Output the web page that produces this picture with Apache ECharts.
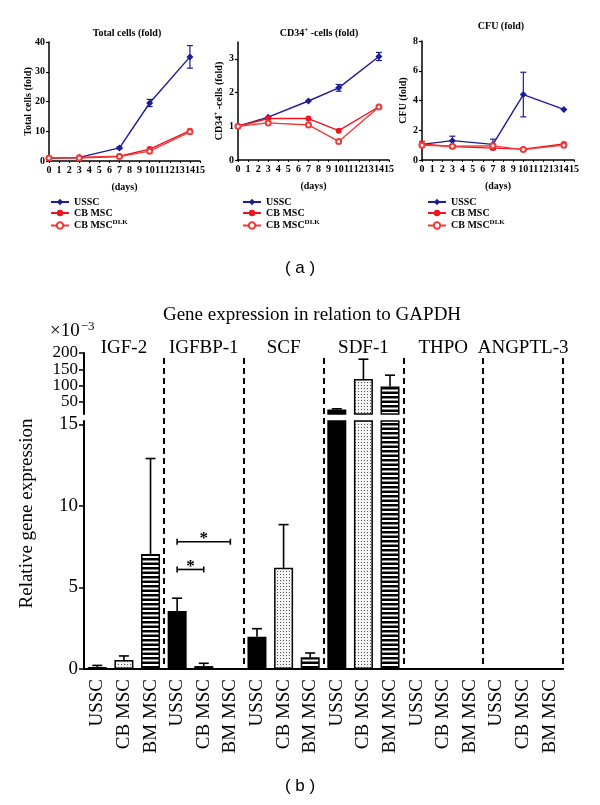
<!DOCTYPE html>
<html>
<head>
<meta charset="utf-8">
<script src="https://cdn.jsdelivr.net/npm/echarts@6/dist/echarts.min.js"></script>
<style>
html, body { margin: 0; padding: 0; background: #fff; }
#main { width: 600px; height: 805px; }
</style>
</head>
<body>
<div id="main"></div>
<script>
// (a) fold expansion over time
var days = [0, 3, 7, 10, 14];
var dayTicks = [0, 15];
var totalUSSC = [1, 1.2, 4.4, 19.5, 35];
var totalUSSCErr = [0, 0, 0.3, 1.2, 3.8];
var totalCB = [1, 1.2, 1.6, 4, 10.2];
var totalDLK = [1, 1, 1.5, 3.3, 9.8];

var cd34USSC = [1, 1.27, 1.75, 2.14, 3.07];
var cd34USSCErr = [0, 0, 0, 0.1, 0.12];
var cd34CB = [1, 1.23, 1.23, 0.87, 1.58];
var cd34DLK = [1, 1.1, 1.04, 0.55, 1.57];
var cd34Ticks = [0, 1, 2, 3];

var cfuUSSC = [1.05, 1.3, 1.05, 4.4, 3.4];
var cfuUSSCErr = [0, 0.3, 0.35, 1.5, 0];
var cfuCB = [1.08, 0.9, 0.8, 0.73, 1.08];
var cfuCBErr = [0.18, 0.1, 0, 0.05, 0.05];
var cfuDLK = [1.0, 0.92, 0.95, 0.7, 1.0];

var lineNames = ['USSC', 'CB MSC', 'CB MSC DLK'];

// (b) gene expression, x10^-3
var genes = ['IGF-2', 'IGFBP-1', 'SCF', 'SDF-1', 'THPO', 'ANGPTL-3'];
var cellTypes = ['USSC', 'CB MSC', 'BM MSC'];
var exprUSSC = [0.12, 3.56, 1.98, 27, 0, 0];
var exprCB = [0.55, 0.18, 6.2, 120, 0, 0];
var exprBM = [7.05, 0.03, 0.72, 97, 0, 0];
var errUSSC = [0.1, 0.78, 0.49, 2, 0, 0];
var errCB = [0.25, 0.17, 2.65, 61, 0, 0];
var errBM = [5.85, 0, 0.26, 35, 0, 0];
var lowerTicks = [0, 5, 10, 15];
var upperTicks = [50, 100, 150, 200];
var sigPairs = [[3, 4, 6.1], [3, 5, 7.8]];

var serif = "'Liberation Serif', 'Times New Roman', serif";
var blue = '#1c1c98';
var red = '#f0141e';
var red2 = '#f03a3a';

var chartElement = document.getElementById('main');

function dotPattern() {
    var c = document.createElement('canvas');
    c.width = 3; c.height = 3;
    var ctx = c.getContext('2d');
    ctx.fillStyle = '#f4f4f4'; ctx.fillRect(0, 0, 3, 3);
    ctx.fillStyle = '#555'; ctx.fillRect(1, 1, 1, 1);
    return c;
}
function stripePattern() {
    var c = document.createElement('canvas');
    c.width = 4; c.height = 9;
    var ctx = c.getContext('2d');
    ctx.fillStyle = '#fff'; ctx.fillRect(0, 0, 4, 9);
    ctx.fillStyle = '#000'; ctx.fillRect(0, 0, 4, 2.5); ctx.fillRect(0, 4.5, 4, 2.5);
    return c;
}
var fills = ['#000', { image: dotPattern(), repeat: 'repeat' }, { image: stripePattern(), repeat: 'repeat' }];

var smallText = { fontFamily: serif, fontSize: 10, fontWeight: 'bold', color: '#000' };
var richSup = {
    a: { fontFamily: serif, fontSize: 10, fontWeight: 'bold', color: '#000' },
    s: { fontFamily: serif, fontSize: 7, fontWeight: 'bold', color: '#000', verticalAlign: 'top', padding: [0, 0, 6, 0] }
};

// ---- panel (a) helpers
var gridsA = [
    { left: 49, top: 42, width: 151, height: 119 },
    { left: 238, top: 42, width: 151, height: 118 },
    { left: 422, top: 41, width: 152, height: 119 }
];
var yNamesA = ['Total cells (fold)', '{a|CD34}{s|+}{a| -cells (fold)}', 'CFU (fold)'];
var yNameGap = [16, 12, 14];
var yRange = [[0, 40, 10], [0, 3.5, 1], [0, 8, 2]];
var legendLeft = [50, 242, 427];

function dayAxis(gi) {
    return {
        type: 'value', gridIndex: gi, min: dayTicks[0], max: dayTicks[1], interval: 1,
        name: '(days)', nameLocation: 'middle', nameGap: 21, nameMoveOverlap: false,
        nameTextStyle: smallText,
        axisLine: { show: true, lineStyle: { color: '#000', width: 1.5 } },
        axisTick: { show: true, length: 2, lineStyle: { color: '#000' } },
        axisLabel: Object.assign({ margin: 4 }, smallText),
        splitLine: { show: false }
    };
}
function foldAxis(gi) {
    var ax = {
        type: 'value', gridIndex: gi, min: yRange[gi][0], max: yRange[gi][1],
        name: yNamesA[gi], nameLocation: 'middle', nameGap: yNameGap[gi], nameMoveOverlap: false,
        nameTextStyle: Object.assign({ rich: richSup }, smallText),
        axisLine: { show: true, lineStyle: { color: '#000', width: 1.5 } },
        axisTick: { show: true, length: 3, lineStyle: { color: '#000', width: 1.2 } },
        axisLabel: Object.assign({ margin: 4 }, smallText),
        splitLine: { show: false }
    };
    if (gi === 1) {
        ax.axisTick.customValues = cd34Ticks;
        ax.axisLabel.customValues = cd34Ticks;
    } else {
        ax.interval = yRange[gi][2];
    }
    return ax;
}
function lineSeries(gi, name, vals, color, symbol, size) {
    return {
        name: name, type: 'line', xAxisIndex: gi, yAxisIndex: gi,
        data: days.map(function (d, i) { return [d, vals[i]]; }),
        symbol: symbol, symbolSize: size,
        itemStyle: { color: color },
        lineStyle: { color: color, width: 1.4 },
        z: 4
    };
}
function errLines(gi, vals, errs, color) {
    var pts = [];
    days.forEach(function (d, i) { if (errs[i] > 0) pts.push([d, vals[i], errs[i]]); });
    return {
        type: 'custom', xAxisIndex: gi, yAxisIndex: gi, data: pts, z: 3, silent: true,
        renderItem: function (params, api) {
            var lo = api.coord([api.value(0), api.value(1) - api.value(2)]);
            var hi = api.coord([api.value(0), api.value(1) + api.value(2)]);
            var w = 3;
            var st = { stroke: color, lineWidth: 1.2 };
            return { type: 'group', children: [
                { type: 'line', shape: { x1: lo[0], y1: lo[1], x2: hi[0], y2: hi[1] }, style: st },
                { type: 'line', shape: { x1: lo[0] - w, y1: lo[1], x2: lo[0] + w, y2: lo[1] }, style: st },
                { type: 'line', shape: { x1: hi[0] - w, y1: hi[1], x2: hi[0] + w, y2: hi[1] }, style: st }
            ] };
        }
    };
}

var seriesA = [];
var setsA = [
    [totalUSSC, totalUSSCErr, totalCB, null, totalDLK],
    [cd34USSC, cd34USSCErr, cd34CB, null, cd34DLK],
    [cfuUSSC, cfuUSSCErr, cfuCB, cfuCBErr, cfuDLK]
];
setsA.forEach(function (s, gi) {
    seriesA.push(lineSeries(gi, lineNames[0], s[0], blue, 'diamond', 7));
    seriesA.push(lineSeries(gi, lineNames[1], s[2], red, 'circle', 6));
    seriesA.push(lineSeries(gi, lineNames[2], s[4], red2, 'emptyCircle', 5));
    seriesA.push(errLines(gi, s[0], s[1], blue));
    if (s[3]) seriesA.push(errLines(gi, s[2], s[3], red));
});

// ---- panel (b)
var barCats = [];
var barData = [];
var errLow = [];
var errHigh = [];
var lowerMax = 15.2;
var upperMin = 13;
genes.forEach(function (g, gi) {
    [[exprUSSC, errUSSC], [exprCB, errCB], [exprBM, errBM]].forEach(function (pair, ci) {
        var idx = barCats.length;
        var v = pair[0][gi], e = pair[1][gi];
        barCats.push(cellTypes[ci]);
        barData.push({ value: v, itemStyle: { color: fills[ci], borderColor: '#000', borderWidth: 1.5 } });
        if (e > 0 && v + e <= lowerMax) errLow.push([idx, v, e]);
        if (e > 0 && v >= upperMin) errHigh.push([idx, v, e]);
    });
});

function renderErrUp(params, api) {
    var p0 = api.coord([api.value(0), api.value(1)]);
    var p1 = api.coord([api.value(0), api.value(1) + api.value(2)]);
    var st = { stroke: '#000', lineWidth: 1.6 };
    return { type: 'group', children: [
        { type: 'line', shape: { x1: p0[0], y1: p0[1], x2: p1[0], y2: p1[1] }, style: st },
        { type: 'line', shape: { x1: p1[0] - 5, y1: p1[1], x2: p1[0] + 5, y2: p1[1] }, style: st }
    ] };
}
function renderBracket(params, api) {
    var a = api.coord([api.value(0), api.value(2)]);
    var b = api.coord([api.value(1), api.value(2)]);
    var st = { stroke: '#000', lineWidth: 1.6 };
    return { type: 'group', children: [
        { type: 'line', shape: { x1: a[0], y1: a[1], x2: b[0], y2: b[1] }, style: st },
        { type: 'line', shape: { x1: a[0], y1: a[1] - 3, x2: a[0], y2: a[1] + 3 }, style: st },
        { type: 'line', shape: { x1: b[0], y1: b[1] - 3, x2: b[0], y2: b[1] + 3 }, style: st },
        { type: 'text', x: (a[0] + b[0]) / 2, y: a[1] - 3,
          style: { text: '*', align: 'center', verticalAlign: 'middle', font: 'bold 17px ' + serif, fill: '#000' } }
    ] };
}

// upper segment labels are packed tight, so split them over two overlaid axes
var upperLabelsA = upperTicks.filter(function (v, i) { return i % 2 === 0; });
var upperLabelsB = upperTicks.filter(function (v, i) { return i % 2 === 1; });
function upperLabelAxis(labels, withLine) {
    return {
        type: 'value', gridIndex: 4, min: upperMin, max: 200, position: 'left', offset: 0,
        axisLine: { show: withLine, lineStyle: { color: '#000', width: 2 } },
        axisTick: { show: withLine, length: 5, customValues: upperTicks, lineStyle: { color: '#000', width: 1.5 } },
        axisLabel: { customValues: labels, margin: 6, fontFamily: serif, fontSize: 17, color: '#000',
            hideOverlap: false, showMinLabel: true, showMaxLabel: true },
        splitLine: { show: false }
    };
}

var option = {
    animation: false,
    backgroundColor: '#fff',
    grid: gridsA.map(function (g) { return Object.assign({ outerBoundsMode: 'none' }, g); }).concat([
        { left: 84, top: 421, width: 479, height: 248, outerBoundsMode: 'none' },
        { left: 84, top: 353, width: 479, height: 61, outerBoundsMode: 'none' },
        { left: 84, top: 358, width: 479, height: 311, outerBoundsMode: 'none' }
    ]),
    legend: legendLeft.map(function (l) {
        return {
            left: l, top: 197, padding: 0, orient: 'vertical', itemWidth: 18, itemHeight: 8, itemGap: 1,
            data: lineNames, selectedMode: false,
            formatter: function (name) {
                return name === 'CB MSC DLK' ? '{a|CB MSC}{s|DLK}' : '{a|' + name + '}';
            },
            textStyle: { rich: richSup }
        };
    }),
    xAxis: [dayAxis(0), dayAxis(1), dayAxis(2),
        {
            type: 'category', gridIndex: 3, data: barCats, boundaryGap: true,
            axisLine: { lineStyle: { color: '#000', width: 2 } },
            axisTick: { alignWithLabel: true, length: 4, lineStyle: { color: '#000', width: 1.5 } },
            axisLabel: { rotate: 90, interval: 0, margin: 10, fontFamily: serif, fontSize: 19, color: '#000' },
            splitLine: { show: false }
        },
        {
            type: 'category', gridIndex: 4, data: barCats, boundaryGap: true,
            axisLine: { show: false }, axisTick: { show: false }, axisLabel: { show: false }, splitLine: { show: false }
        },
        {
            type: 'category', gridIndex: 4, data: genes, position: 'top', boundaryGap: true,
            axisLine: { show: false }, axisTick: { show: false },
            axisLabel: { interval: 0, margin: -5, fontFamily: serif, fontSize: 19, color: '#000' },
            splitLine: { show: false }
        },
        {
            type: 'category', gridIndex: 5, data: barCats, boundaryGap: true,
            axisLine: { show: false }, axisTick: { show: false }, axisLabel: { show: false },
            splitLine: {
                show: true,
                interval: function (index) { return index > 0 && index % 3 === 0; },
                lineStyle: { color: '#000', width: 2, type: [6, 4] }
            }
        }
    ],
    yAxis: [foldAxis(0), foldAxis(1), foldAxis(2),
        {
            type: 'value', gridIndex: 3, min: 0, max: lowerMax,
            axisLine: { show: true, lineStyle: { color: '#000', width: 2 } },
            axisTick: { show: true, length: 5, customValues: lowerTicks, lineStyle: { color: '#000', width: 1.5 } },
            axisLabel: { customValues: lowerTicks, margin: 6, fontFamily: serif, fontSize: 19, color: '#000',
                hideOverlap: false, showMinLabel: true, showMaxLabel: true },
            splitLine: { show: false }
        },
        upperLabelAxis(upperLabelsA, true),
        {
            type: 'value', gridIndex: 5, min: 0, max: 1,
            name: 'Relative gene expression', nameLocation: 'middle', nameGap: 47, nameMoveOverlap: false,
            nameTextStyle: { fontFamily: serif, fontSize: 19, color: '#000' },
            axisLine: { show: false }, axisTick: { show: false }, axisLabel: { show: false }, splitLine: { show: false }
        },
        upperLabelAxis(upperLabelsB, false)
    ],
    series: seriesA.concat([
        {
            type: 'bar', xAxisIndex: 3, yAxisIndex: 3, data: barData, barWidth: 19, clip: true, z: 2
        },
        {
            type: 'bar', xAxisIndex: 4, yAxisIndex: 4, data: barData, barWidth: 19, clip: true, z: 2
        },
        {
            type: 'custom', xAxisIndex: 3, yAxisIndex: 3, data: errLow, renderItem: renderErrUp, z: 3, silent: true
        },
        {
            type: 'custom', xAxisIndex: 4, yAxisIndex: 4, data: errHigh, renderItem: renderErrUp, z: 3, silent: true
        },
        {
            type: 'custom', xAxisIndex: 3, yAxisIndex: 3, data: sigPairs, renderItem: renderBracket, z: 3, silent: true
        }
    ]),
    graphic: [
        { type: 'text', x: 127, y: 33, style: { text: 'Total cells (fold)', align: 'center', verticalAlign: 'middle', font: 'bold 10px ' + serif, fill: '#000' } },
        { type: 'text', x: 319, y: 33, style: { text: '{a|CD34}{s|+}{a| -cells (fold)}', rich: richSup, align: 'center', verticalAlign: 'middle' } },
        { type: 'text', x: 501, y: 26, style: { text: 'CFU (fold)', align: 'center', verticalAlign: 'middle', font: 'bold 10px ' + serif, fill: '#000' } },
        { type: 'text', x: 300, y: 268, style: { text: '( a )', align: 'center', verticalAlign: 'middle', font: "17px 'Liberation Sans', Arial, sans-serif", fill: '#000' } },
        { type: 'text', x: 312, y: 315, style: { text: 'Gene expression in relation to GAPDH', align: 'center', verticalAlign: 'middle', font: '19px ' + serif, fill: '#000' } },
        { type: 'text', x: 50, y: 331, style: {
            text: '{m|×10}{e|−3}', align: 'left', verticalAlign: 'middle',
            rich: {
                m: { fontFamily: serif, fontSize: 19, color: '#000' },
                e: { fontFamily: serif, fontSize: 13, color: '#000', verticalAlign: 'top', padding: [0, 0, 8, 1] }
            }
        } },
        { type: 'text', x: 300, y: 786, style: { text: '( b )', align: 'center', verticalAlign: 'middle', font: "17px 'Liberation Sans', Arial, sans-serif", fill: '#000' } }
    ]
};

var myChart = echarts.init(chartElement, null, { renderer: 'canvas' });
myChart.setOption(option);
</script>
</body>
</html>
